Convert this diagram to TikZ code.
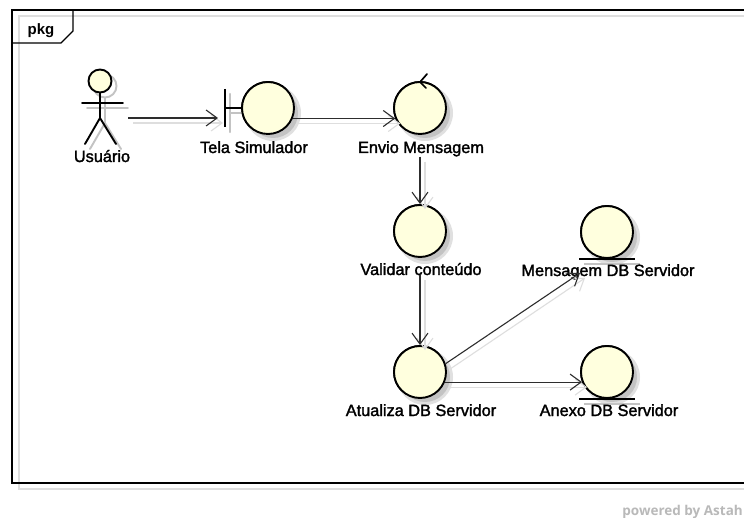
\documentclass[tikz,border=0pt]{standalone}
\usepackage{fontspec}
\setmainfont{Liberation Sans}
\newfontfamily\lblfont[FakeBold=1.8]{Liberation Sans}
\newfontfamily\brandfont{Open Sans}
\usetikzlibrary{arrows.meta,calc}

\definecolor{robfill}{RGB}{255,255,222}
\definecolor{lineclr}{RGB}{45,45,45}
\definecolor{shadowline}{RGB}{222,222,222}
\definecolor{shadowcore}{RGB}{195,195,195}
\definecolor{shadowedge}{RGB}{224,224,224}
\definecolor{brandgray}{RGB}{185,185,185}

% connector with its drop shadow
\newcommand\link[3][]{%
  \draw[connshadow,#1] #2 -- #3;
  \draw[conn,#1] #2 -- #3;}
% soft drop shadow under a round icon
\newcommand\iconshadow[1]{%
  \fill[shadowedge] ([shift={(5,5)}]#1.center) circle[radius=28pt];
  \fill[shadowcore] ([shift={(5,5)}]#1.center) circle[radius=25pt];}

\begin{document}
\begin{tikzpicture}[x=1pt,y=-1pt,
  icon/.style={circle, draw=black, line width=1.9pt, fill=robfill,
    minimum size=52pt, inner sep=0pt},
  lbl/.style={anchor=base, inner sep=0pt, font=\lblfont\fontsize{16.3}{18}\selectfont},
  tip/.style={-{Straight Barb[length=11pt,width=16pt]}},
  conn/.style={draw=lineclr, line width=1.1pt, tip},
  connshadow/.style={draw=shadowline, line width=1.1pt, tip,
    transform canvas={xshift=5pt,yshift=-5pt}},
  figure/.style={line width=1.9pt, line cap=round},
  frameline/.style={line width=1.3pt, black},
]
\useasboundingbox (0,0) rectangle (744,518);
\fill[white] (0,0) rectangle (744,518);

% package frame, its shadow and the name tab
\draw[shadowline, line width=1.2pt] (748,16) -- (19,16) -- (19,489) -- (748,489);
\draw[frameline] (748,10) -- (12,10) -- (12,483) -- (748,483);
\draw[frameline] (12,43) -- (61,43) -- (73,31) -- (73,10);
\node[anchor=base, inner sep=0pt, font=\bfseries\fontsize{15}{17}\selectfont] (pkg) at (41,35) {pkg};

% robustness icons
\coordinate (usuario) at (100,108);
\node[icon] (tela) at (268,108) {};
\node[inner sep=0pt, minimum height=38pt, minimum width=0pt] (tela-bar) at (225,108) {};
\node[icon] (envio) at (420,108) {};
\node[icon] (validar) at (420,231) {};
\node[icon] (mensagem) at (607,232) {};
\node[icon] (atualiza) at (420,372) {};
\node[icon] (anexo) at (607,372) {};

% shadows first
\begin{scope}[shadowcore, line width=1.9pt, line cap=round]
  \draw ([shift={(5,5)}]usuario) ++(0,-27) circle[radius=11.5pt];
  \draw ([shift={(5,5)}]usuario) ++(-18,-5) -- ++(41,0);
  \draw ([shift={(5,5)}]usuario) ++(0,-15) -- ++(0,25) -- ++(-15,26);
  \draw ([shift={(5,5)}]usuario) ++(0,10) -- ++(16,26);
  \draw ([shift={(5,5)}]tela-bar.north) -- ([shift={(5,5)}]tela-bar.south);
  \draw ([shift={(5,5)}]tela-bar.center) -- ([shift={(5,5)}]tela.west);
\end{scope}
\iconshadow{tela}
\iconshadow{envio}
\iconshadow{validar}
\iconshadow{mensagem}
\iconshadow{atualiza}
\iconshadow{anexo}
\fill[shadowcore] ([shift={(5,5)}]mensagem.south) ++(-28,-1) rectangle ++(56,2);
\fill[shadowcore] ([shift={(5,5)}]anexo.south) ++(-28,-1) rectangle ++(56,2);

% redraw icons on top of the shadows
\node[icon] at (tela) {};
\node[icon] at (envio) {};
\node[icon] at (validar) {};
\node[icon] at (mensagem) {};
\node[icon] at (atualiza) {};
\node[icon] at (anexo) {};

% actor
\draw[figure, fill=robfill] (usuario) ++(0,-27) circle[radius=11.5pt];
\draw[figure] (usuario) ++(-18,-5) -- ++(41,0);
\draw[figure] (usuario) ++(0,-15) -- ++(0,25) -- ++(-15,26);
\draw[figure] (usuario) ++(0,10) -- ++(16,26);

% boundary stem
\draw[figure, line cap=butt] (tela-bar.north) -- (tela-bar.south);
\draw[line width=1.9pt] (tela-bar.center) -- (tela.west);

% control arrow on top of the circle
\draw[line width=1.7pt, line cap=round] ([shift={(7,-7)}]envio.north) -- ([shift={(0,1)}]envio.north) -- ([shift={(6,7)}]envio.north);

% entity underlines
\draw[line width=1.9pt] ([xshift=-28pt]mensagem.south) -- ([xshift=28pt]mensagem.south);
\draw[line width=1.9pt] ([xshift=-28pt]anexo.south) -- ([xshift=28pt]anexo.south);

% labels
\node[lbl] (lbl-usuario) at (102,162) {Usuário};
\node[lbl] (lbl-tela) at (254,153) {Tela Simulador};
\node[lbl] (lbl-envio) at (421,153) {Envio Mensagem};
\node[lbl] (lbl-validar) at (421,275) {Validar conteúdo};
\node[lbl] (lbl-mensagem) at (608,276) {Mensagem DB Servidor};
\node[lbl] (lbl-atualiza) at (421,416) {Atualiza DB Servidor};
\node[lbl] (lbl-anexo) at (609,416) {Anexo DB Servidor};

% connector ends that sit off the icons
\coordinate (usuario-out) at (128,118);
\coordinate (mensagem-in) at (580,273);

% connectors
\link[shorten >=7pt]{(usuario-out)}{(usuario-out -| tela-bar.center)}
\link{(tela.-23)}{(envio.203)}
\link{(envio |- lbl-envio.south)}{(validar.north)}
\link{(validar |- lbl-validar.south)}{(atualiza.north)}
\link{(atualiza.18)}{(mensagem-in)}
\link{(atualiza.-22)}{(anexo.202)}

% footer
\node[anchor=base east, inner sep=0pt, text=brandgray, font=\brandfont\bfseries\fontsize{13.5}{15}\selectfont] (brand) at (743,515) {powered by Astah};
\end{tikzpicture}
\end{document}
